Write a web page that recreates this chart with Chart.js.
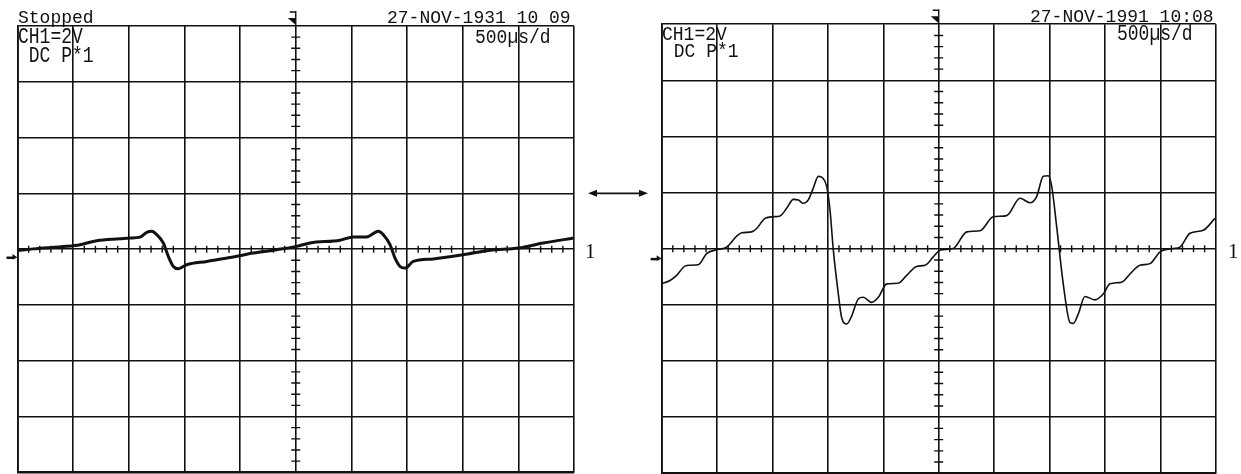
<!DOCTYPE html>
<html>
<head>
<meta charset="utf-8">
<script src="https://cdn.jsdelivr.net/npm/chart.js@4/dist/chart.umd.min.js"></script>
<style>
  html, body { margin: 0; padding: 0; background: #fff; }
  #wrap { position: relative; width: 1241px; height: 474px; overflow: hidden; }
  canvas { position: absolute; left: 0; top: 0; }
  .lbl { position: absolute; font-family: 'Liberation Mono', monospace; font-size: 18px; line-height: 18px;
         color: #111; white-space: pre; transform-origin: left top; }
  .one { position: absolute; font-family: 'Liberation Serif', serif; font-size: 21px; line-height: 21px; color: #111; }
</style>
</head>
<body>
<div id="wrap">
  <canvas id="leftScope" width="1241" height="474"></canvas>
  <canvas id="rightScope" width="1241" height="474"></canvas>

  <div class="lbl" style="left:18px;top:9px;">Stopped</div>
  <div class="lbl" style="left:18px;top:25px;transform:scaleY(1.25);">CH1=2V</div>
  <div class="lbl" style="left:18px;top:44px;transform:scaleY(1.25);"> DC P*1</div>
  <div class="lbl" style="left:387px;top:9px;">27-NOV-1931 10 09</div>
  <div class="lbl" style="left:475px;top:27px;transform:scaleY(1.15);">500µs/d</div>
  <div class="one" style="left:585px;top:241px;">1</div>

  <div class="lbl" style="left:662px;top:24px;transform:scaleY(1.15);">CH1=2V</div>
  <div class="lbl" style="left:663px;top:41px;transform:scaleY(1.15);"> DC P*1</div>
  <div class="lbl" style="left:1030px;top:8px;">27-NOV-1991 10:08</div>
  <div class="lbl" style="left:1117px;top:22px;transform:scaleY(1.25);">500µs/d</div>
  <div class="one" style="left:1228px;top:241px;">1</div>
</div>

<script>
// scope settings: 500 us/div, 2 V/div, 10 x 8 divisions
const timePerDiv = 500;
const voltsPerDiv = 2;

// left capture (10:09) - small signal
const leftTime  = [0, 142, 442, 562, 712, 921, 1011, 1101, 1161, 1206, 1251, 1310, 1355, 1400, 1445, 1520,
                   1700, 1939, 2119, 2329, 2509, 2628, 2898, 3017, 3138, 3242, 3287, 3347, 3392, 3437, 3482,
                   3556, 3736, 4006, 4245, 4500, 4724, 5000];
const leftVolts = [-0.05, 0.01, 0.10, 0.16, 0.30, 0.37, 0.40, 0.43, 0.60, 0.64, 0.52, 0.22, -0.26, -0.62, -0.70, -0.56,
                   -0.44, -0.28, -0.14, -0.02, 0.10, 0.22, 0.32, 0.44, 0.44, 0.64, 0.52, 0.16, -0.32, -0.62, -0.68,
                   -0.44, -0.35, -0.20, -0.04, 0.04, 0.22, 0.40];

// right capture (10:08) - larger stepped ramp
const rightTime  = [0, 75, 135, 210, 255, 330, 406, 505, 586, 677, 722, 812, 857, 932, 1007, 1068, 1128, 1188,
                    1233, 1278, 1323, 1368, 1413, 1453, 1489, 1519, 1549, 1594, 1624, 1670, 1715, 1774, 1819,
                    1895, 1955, 2031, 2135, 2211, 2301, 2376, 2451, 2512, 2632, 2753, 2873, 2993, 3114, 3234,
                    3324, 3384, 3444, 3489, 3520, 3565, 3624, 3685, 3715, 3760, 3820, 3908, 3985, 4046, 4152,
                    4242, 4317, 4407, 4498, 4617, 4678, 4768, 4888, 4993];
const rightVolts = [-1.25, -1.13, -0.95, -0.62, -0.59, -0.57, -0.17, -0.03, 0.06, 0.45, 0.57, 0.60, 0.72, 1.08, 1.14,
                    1.17, 1.44, 1.76, 1.74, 1.62, 1.74, 2.16, 2.58, 2.52, 2.22, 1.38, -0.05, -1.61, -2.45, -2.68,
                    -2.39, -1.79, -1.73, -1.91, -1.73, -1.25, -1.23, -0.95, -0.63, -0.59, -0.29, -0.05, 0.01, 0.60,
                    0.64, 1.14, 1.18, 1.80, 1.64, 1.86, 2.58, 2.60, 2.22, 0.78, -1.25, -2.63, -2.66, -2.32, -1.70,
                    -1.82, -1.61, -1.25, -1.19, -0.83, -0.59, -0.53, -0.11, 0.01, 0.06, 0.55, 0.66, 1.08];

const ink = '#111';

// graticule extras: minor ticks on the centre axes, trigger and ground markers, arrow
const scopeDecor = {
  id: 'scopeDecor',
  beforeDatasetsDraw(chart, args, opts) {
    const { ctx, chartArea: a, scales: { x, y } } = chart;
    const cx = x.getPixelForValue(timePerDiv * 5);
    const cy = y.getPixelForValue(0);
    ctx.save();
    ctx.strokeStyle = ink;
    ctx.fillStyle = ink;
    ctx.lineWidth = 1.4;
    ctx.beginPath();
    for (let k = 1; k < 50; k++) {
      if (k % 5 === 0) continue;
      const px = x.getPixelForValue(k * timePerDiv / 5);
      ctx.moveTo(px, cy - 3.5); ctx.lineTo(px, cy + 3.5);
    }
    for (let k = 1; k < 40; k++) {
      if (k % 5 === 0) continue;
      const py = y.getPixelForValue(-4 * voltsPerDiv + k * voltsPerDiv / 5);
      ctx.moveTo(cx - 4.5, py); ctx.lineTo(cx + 4.5, py);
    }
    ctx.stroke();

    // trigger position marker
    ctx.beginPath();
    ctx.moveTo(cx - 6, a.top - 14); ctx.lineTo(cx, a.top - 14);
    ctx.moveTo(cx, a.top - 15); ctx.lineTo(cx, a.top);
    ctx.stroke();
    ctx.beginPath();
    ctx.moveTo(cx - 8, a.top - 8); ctx.lineTo(cx, a.top - 8); ctx.lineTo(cx, a.top - 1);
    ctx.closePath(); ctx.fill();

    // ground reference marker
    const gy = y.getPixelForValue(opts.ground);
    ctx.fillRect(a.left - 11, gy - 1, 8, 2.5);
    ctx.beginPath();
    ctx.moveTo(a.left - 5, gy - 3.5); ctx.lineTo(a.left, gy); ctx.lineTo(a.left - 5, gy + 2);
    ctx.closePath(); ctx.fill();

    // double arrow between the two screens
    if (opts.arrow) {
      const ay = y.getPixelForValue(voltsPerDiv);
      const x0 = a.right + 14, x1 = a.right + 74;
      ctx.lineWidth = 1.6;
      ctx.beginPath(); ctx.moveTo(x0 + 4, ay); ctx.lineTo(x1 - 4, ay); ctx.stroke();
      ctx.beginPath(); ctx.moveTo(x0, ay); ctx.lineTo(x0 + 9, ay - 3.5); ctx.lineTo(x0 + 9, ay + 3.5); ctx.closePath(); ctx.fill();
      ctx.beginPath(); ctx.moveTo(x1, ay); ctx.lineTo(x1 - 9, ay - 3.5); ctx.lineTo(x1 - 9, ay + 3.5); ctx.closePath(); ctx.fill();
    }
    ctx.restore();
  }
};

function makeScope(id, times, volts, width, pad, ground, arrow) {
  const ctx = document.getElementById(id).getContext('2d');
  return new Chart(ctx, {
    type: 'line',
    data: {
      datasets: [{
        data: times.map((t, i) => ({ x: t, y: volts[i] })),
        borderColor: ink,
        borderWidth: width,
        pointRadius: 0,
        cubicInterpolationMode: 'monotone',
        fill: false
      }]
    },
    options: {
      responsive: false,
      animation: false,
      events: [],
      layout: { padding: pad },
      plugins: {
        legend: { display: false },
        tooltip: { enabled: false },
        scopeDecor: { ground: ground, arrow: arrow }
      },
      scales: {
        x: {
          type: 'linear',
          min: 0,
          max: timePerDiv * 10,
          ticks: { display: false, stepSize: timePerDiv },
          grid: { color: ink, lineWidth: 1.6, drawTicks: false },
          border: { display: true, color: ink, width: 1.8 }
        },
        y: {
          min: -4 * voltsPerDiv,
          max: 4 * voltsPerDiv,
          ticks: { display: false, stepSize: voltsPerDiv },
          grid: { color: ink, lineWidth: 1.6, drawTicks: false },
          border: { display: true, color: ink, width: 1.8 }
        }
      }
    },
    plugins: [scopeDecor]
  });
}

makeScope('leftScope', leftTime, leftVolts, 3,
  { left: 17.5, right: 667, top: 26, bottom: 1.7 }, -0.3, true);
makeScope('rightScope', rightTime, rightVolts, 1.6,
  { left: 661.7, right: 25.3, top: 24.2, bottom: 0.7 }, -0.36, false);
</script>
</body>
</html>
